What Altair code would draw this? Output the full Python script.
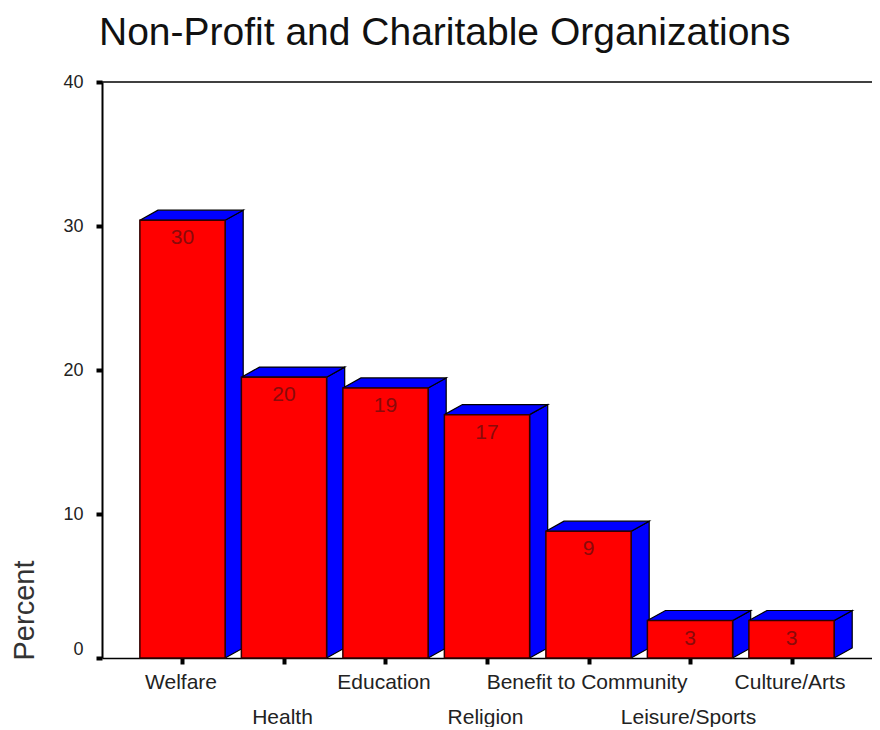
import altair as alt
import pandas as pd

TITLE = "Non-Profit and Charitable Organizations"
categories = ["Welfare", "Health", "Education", "Religion", "Benefit to Community", "Leisure/Sports", "Culture/Arts"]
heights = [30.4, 19.5, 18.75, 16.9, 8.8, 2.6, 2.6]
labels = ["30", "20", "19", "17", "9", "3", "3"]

HALF = 0.42
DX = 0.178
DY = 0.7

front, faces = [], []
for i, (c, v, t) in enumerate(zip(categories, heights, labels)):
    x0, x1 = i - HALF, i + HALF
    front.append({"cat": c, "x0": x0, "x1": x1, "xc": i, "v": v, "label": t, "base": 0})
    side = [(x1, 0), (x1 + DX, DY), (x1 + DX, v + DY), (x1, v), (x1, 0)]
    top = [(x0, v), (x0 + DX, v + DY), (x1 + DX, v + DY), (x1, v), (x0, v)]
    for name, poly in [(f"side{i}", side), (f"top{i}", top)]:
        for k, (x, y) in enumerate(poly):
            faces.append({"face": name, "k": k, "x": x, "y": y})
front = pd.DataFrame(front)
faces = pd.DataFrame(faces)

xs = alt.Scale(domain=[-0.793, 6.793], nice=False, zero=False)
ys = alt.Scale(domain=[0, 40], nice=False)

names = "[" + ",".join(f"'{c}'" for c in categories) + "]"
label_expr = f"datum.value % 2 == 1 ? ['', {names}[datum.value]] : {names}[datum.value]"

x_axis = alt.Axis(values=list(range(7)), labelExpr=label_expr, title=None, grid=False, labelFont="Liberation Sans",
                  labelFontSize=21, labelColor="#222222", labelPadding=7, labelLineHeight=35, labelAngle=0,
                  labelOffset=-2, labelOverlap=False, labelBound=False, labelFlush=False, labelLimit=400,
                  tickSize=6, tickWidth=4, tickColor="black", domainColor="black", domainWidth=1.5)
y_axis = alt.Axis(values=[0, 10, 20, 30, 40], title="Percent", grid=False, labelFont="Liberation Sans",
                  labelFontSize=18, labelColor="#222222", labelPadding=13, tickSize=6, tickWidth=4,
                  labelBaseline={"condition": {"test": "datum.value == 0", "value": "bottom"}, "value": "middle"},
                  tickColor="black", domainColor="black", domainWidth=2,
                  titleFont="Liberation Sans", titleFontSize=29, titleFontWeight="normal", titleColor="#333333",
                  titleAngle=270, titleAnchor="start", titleBaseline="middle", titleX=-78, titleY=578)

top_line = alt.Chart(pd.DataFrame({"v": [40]})).mark_rule(color="black", strokeWidth=1.5).encode(
    y=alt.Y("v:Q", scale=ys, axis=y_axis))

face_layer = alt.Chart(faces).mark_line(fill="#0000ff", stroke="black", strokeWidth=1.2).encode(
    x=alt.X("x:Q", scale=xs, axis=x_axis),
    y=alt.Y("y:Q", scale=ys),
    detail="face:N",
    order="k:Q",
)
front_layer = alt.Chart(front).mark_rect(color="#ff0000", stroke="#300000", strokeWidth=1.5).encode(
    x=alt.X("x0:Q", scale=xs), x2="x1:Q", y=alt.Y("base:Q", scale=ys), y2="v:Q")
text_layer = alt.Chart(front).mark_text(font="Liberation Sans", fontSize=21, color="#8a0a0a", baseline="middle", dy=18).encode(
    x=alt.X("xc:Q", scale=xs), y=alt.Y("v:Q", scale=ys), text="label:N")

chart = alt.layer(top_line, face_layer, front_layer, text_layer).properties(
    width=770, height=576,
    autosize=alt.AutoSizeParams(type="none"),
    padding={"left": 94, "top": 74, "right": 0, "bottom": 69},
    title=alt.TitleParams(TITLE, anchor="start", frame="group", font="Liberation Sans", fontSize=39,
                          fontWeight="normal", color="#111111", dx=-3, offset=20),
).configure_view(stroke=None)

chart.save("out.html", embed_options={"renderer": "svg", "actions": False})
